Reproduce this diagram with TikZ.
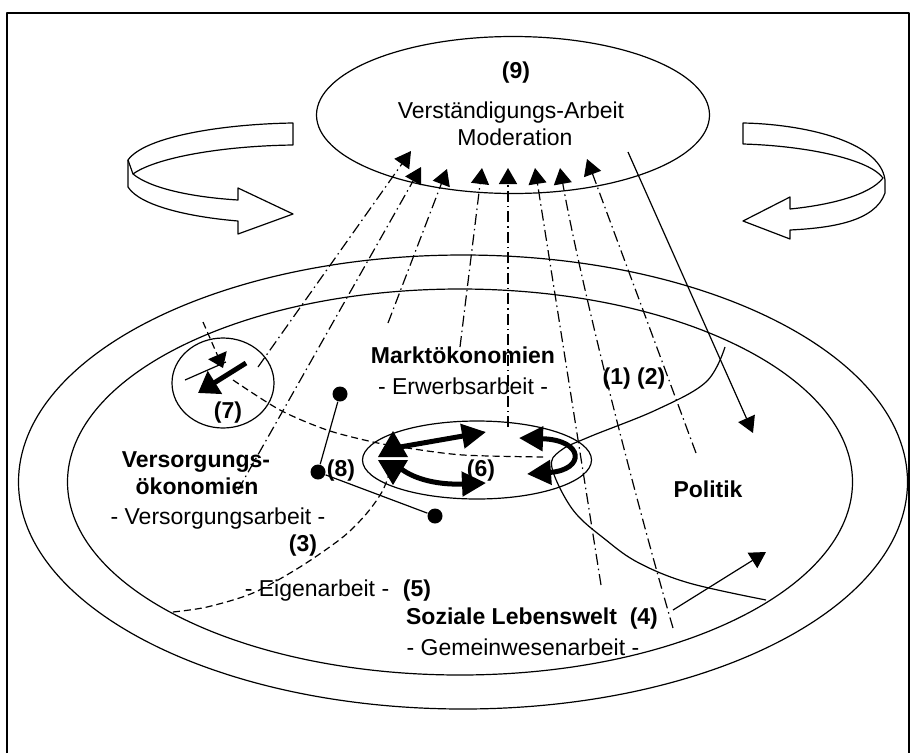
\documentclass[tikz,border=0pt]{standalone}
\usepackage{fontspec}
\setmainfont{Liberation Sans}
\usetikzlibrary{shapes.geometric, arrows.meta}

\begin{document}
\begin{tikzpicture}[x=1pt, y=-1pt, line width=1.2pt, line join=round,
    txt/.style={font=\fontsize{23}{27}\selectfont, text height=16pt, text depth=4pt, inner sep=0pt},
    lbl/.style={txt, font=\fontsize{23}{27}\selectfont\bfseries},
    ring/.style={draw, ellipse, inner sep=0pt},
    bigtri/.tip={Triangle[length=24pt, width=24pt]},
    tip/.style={-{Triangle[length=16pt, width=18pt]}},
    bigtip/.style={-bigtri},
    dd/.style={dash pattern=on 11pt off 4pt on 1.5pt off 4pt},
    ds/.style={dash pattern=on 7pt off 4pt},
    fat/.style={line width=5pt},
    dot/.style={circle, fill, inner sep=0pt, minimum size=15pt}]

    \useasboundingbox (0,0) rectangle (912,753);
    \draw (7,753) -- (7,13) -- (909,13) -- (909,753);

    % rings
    \node[ring, minimum width=889pt, minimum height=454pt] (welt) at (463,482) {};
    \node[ring, minimum width=785pt, minimum height=386pt] (oeko) at (460,482) {};
    \node[ring, minimum width=229pt, minimum height=78pt] (kern) at (477,460) {};
    \node[ring, minimum width=102pt, minimum height=90pt] (haus) at (223,383) {};
    \node[ring, minimum width=393pt, minimum height=157pt] (moder) at (513,115) {};

    % turning arrows left and right
    \draw[fill=white] (293,123) .. controls (225,124) and (145,136) .. (128,160) -- (128,187)
        .. controls (140,206) and (190,217) .. (238,221) -- (238,234) -- (293,214) -- (238,188) -- (238,200)
        .. controls (190,197) and (150,188) .. (133,174) .. controls (155,158) and (220,146) .. (293,145) -- cycle;
    \draw (128,160) -- (133,174);
    \draw[fill=white] (743,123) .. controls (800,124) and (880,140) .. (885,180) -- (885,193)
        .. controls (875,222) and (830,228) .. (790,230) -- (790,239) -- (743,221) -- (790,197) -- (790,209)
        .. controls (830,205) and (870,195) .. (883,178) .. controls (870,160) and (810,146) .. (743,144) -- cycle;

    % texts
    \node[lbl] (n9) at (516,72) {(9)};
    \node[txt] (va) at (511,112) {Verständigungs-Arbeit};
    \node[txt] (mo) at (515,139) {Moderation};
    \node[lbl] (markt) at (463,357) {Marktökonomien};
    \node[txt] (erw) at (463,388) {- Erwerbsarbeit -};
    \node[lbl] (n12) at (634,378) {(1) (2)};
    \node[lbl] (pol) at (708,491) {Politik};
    \node[lbl] (vers) at (196,461) {Versorgungs-};
    \node[lbl] (vers2) at (197,488) {ökonomien};
    \node[txt] (vsa) at (218,518) {- Versorgungsarbeit -};
    \node[lbl] (n3) at (303,545) {(3)};
    \node[txt] (eig) at (317,590) {- Eigenarbeit -};
    \node[lbl] (n5) at (417,590) {(5)};
    \node[lbl] (soz) at (532,618) {Soziale Lebenswelt~ (4)};
    \node[txt] (gem) at (523,649) {- Gemeinwesenarbeit -};
    \node[lbl] (n7) at (228,412) {(7)};
    \node[lbl] (n6) at (481,470) {(6)};
    \node[lbl] (n8) at (341,470) {(8)};

    % up to the moderation
    \foreach \a/\b in {{258,367}/{411,151}, {238,490}/{421,167}, {388,323}/{447,169},
        {460,347}/{482,168}, {601,585}/{535,168}, {696,453}/{587,159}}
        \draw[dd, tip] (\a) -- (\b);
    \draw[dd, tip, line width=1.6pt] (508,427) -- (508,168);
    \draw[dd, tip] (673,628) .. controls (630,480) and (580,280) .. (560,168);

    % down to politik
    \draw[tip] (628,152) -- (753,433);
    \draw[tip] (673,610) -- (766,552);
    \draw plot[smooth, tension=0.6] coordinates {(725,347) (706,382) (656,410) (589,437) (560,451)
        (552,468) (573,510) (606,540) (639,563) (689,583) (766,600)};

    % dashed paths
    \draw[ds, -{Triangle[length=14pt, width=20pt]}] (203,322) -- (223,368);
    \draw[ds] plot[smooth] coordinates {(233,380) (280,410) (327,430) (373,442) (407,448) (463,455) (543,457)};
    \draw[ds] plot[smooth] coordinates {(173,612) (207,607) (253,593) (300,567) (343,537) (367,513) (383,490) (392,465)};

    % inside (7)
    \draw (185,380) -- (226,362);
    \draw[fat, -{Triangle[length=20pt, width=26pt]}] (246,363) -- (198,393);

    % inside (6)
    \fill (378,457) -- (393,431) -- (408,457) -- cycle;
    \fill (378,460) -- (408,460) -- (393,485) -- cycle;
    \draw[fat, bigtip] (400,447) -- (486,432);
    \draw[fat, bigtip] (400,468) .. controls (415,480) and (440,485) .. (486,483);
    \draw[fat, bigtri-bigtri] (519,438) .. controls (585,440) and (585,470) .. (527,474);

    % (8)
    \node[dot] (p1) at (340,394) {};
    \node[dot] (p2) at (318,472) {};
    \node[dot] (p3) at (435,516) {};
    \draw (p1) -- (p2) -- (p3);

\end{tikzpicture}
\end{document}
